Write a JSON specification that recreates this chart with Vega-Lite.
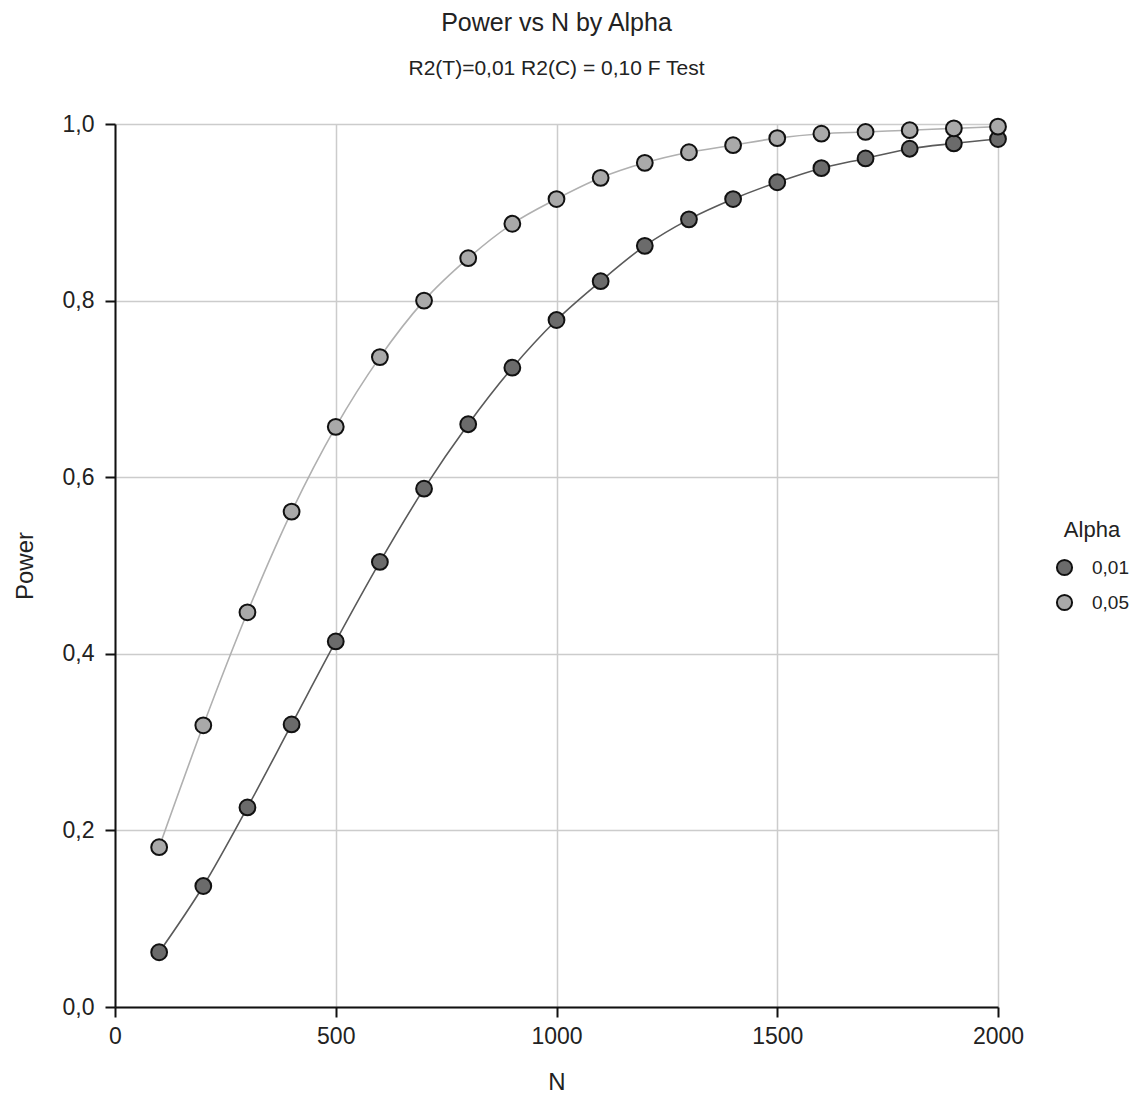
{
  "$schema": "https://vega.github.io/schema/vega-lite/v6.json",
  "autosize": {"type": "none"},
  "padding": {"left": 115, "top": 124, "right": 139, "bottom": 88},
  "width": 883,
  "height": 883,
  "background": "white",
  "title": {
    "text": "Power vs N by Alpha",
    "subtitle": "R2(T)=0,01 R2(C) = 0,10 F Test",
    "anchor": "middle",
    "font": "Liberation Sans",
    "fontSize": 25,
    "fontWeight": "normal",
    "color": "#222222",
    "subtitleFont": "Liberation Sans",
    "subtitleFontSize": 21,
    "subtitleColor": "#222222",
    "subtitlePadding": 22,
    "offset": 34
  },
  "data": {
    "values": [
      {"N": 100, "Power": 0.062, "Alpha": "0,01"},
      {"N": 200, "Power": 0.137, "Alpha": "0,01"},
      {"N": 300, "Power": 0.226, "Alpha": "0,01"},
      {"N": 400, "Power": 0.320, "Alpha": "0,01"},
      {"N": 500, "Power": 0.414, "Alpha": "0,01"},
      {"N": 600, "Power": 0.504, "Alpha": "0,01"},
      {"N": 700, "Power": 0.587, "Alpha": "0,01"},
      {"N": 800, "Power": 0.660, "Alpha": "0,01"},
      {"N": 900, "Power": 0.724, "Alpha": "0,01"},
      {"N": 1000, "Power": 0.778, "Alpha": "0,01"},
      {"N": 1100, "Power": 0.822, "Alpha": "0,01"},
      {"N": 1200, "Power": 0.862, "Alpha": "0,01"},
      {"N": 1300, "Power": 0.892, "Alpha": "0,01"},
      {"N": 1400, "Power": 0.915, "Alpha": "0,01"},
      {"N": 1500, "Power": 0.934, "Alpha": "0,01"},
      {"N": 1600, "Power": 0.950, "Alpha": "0,01"},
      {"N": 1700, "Power": 0.961, "Alpha": "0,01"},
      {"N": 1800, "Power": 0.972, "Alpha": "0,01"},
      {"N": 1900, "Power": 0.978, "Alpha": "0,01"},
      {"N": 2000, "Power": 0.983, "Alpha": "0,01"},
      {"N": 100, "Power": 0.181, "Alpha": "0,05"},
      {"N": 200, "Power": 0.319, "Alpha": "0,05"},
      {"N": 300, "Power": 0.447, "Alpha": "0,05"},
      {"N": 400, "Power": 0.561, "Alpha": "0,05"},
      {"N": 500, "Power": 0.657, "Alpha": "0,05"},
      {"N": 600, "Power": 0.736, "Alpha": "0,05"},
      {"N": 700, "Power": 0.800, "Alpha": "0,05"},
      {"N": 800, "Power": 0.848, "Alpha": "0,05"},
      {"N": 900, "Power": 0.887, "Alpha": "0,05"},
      {"N": 1000, "Power": 0.915, "Alpha": "0,05"},
      {"N": 1100, "Power": 0.939, "Alpha": "0,05"},
      {"N": 1200, "Power": 0.956, "Alpha": "0,05"},
      {"N": 1300, "Power": 0.968, "Alpha": "0,05"},
      {"N": 1400, "Power": 0.976, "Alpha": "0,05"},
      {"N": 1500, "Power": 0.984, "Alpha": "0,05"},
      {"N": 1600, "Power": 0.989, "Alpha": "0,05"},
      {"N": 1700, "Power": 0.991, "Alpha": "0,05"},
      {"N": 1800, "Power": 0.993, "Alpha": "0,05"},
      {"N": 1900, "Power": 0.995, "Alpha": "0,05"},
      {"N": 2000, "Power": 0.997, "Alpha": "0,05"}
    ]
  },
  "encoding": {
    "x": {
      "field": "N", "type": "quantitative",
      "scale": {"domain": [0, 2000], "nice": false, "zero": false},
      "axis": {"values": [0, 500, 1000, 1500, 2000], "format": "d", "labelFlush": false, "title": "N", "titlePadding": 22}
    },
    "y": {
      "field": "Power", "type": "quantitative",
      "scale": {"domain": [0, 1], "nice": false},
      "axis": {
        "values": [0, 0.2, 0.4, 0.6, 0.8, 1.0],
        "labelExpr": "replace(format(datum.value, '.1f'), '.', ',')",
        "labelFlush": false,
        "labelPadding": 11,
        "title": "Power", "titlePadding": 25
      }
    }
  },
  "layer": [
    {
      "mark": {"type": "line", "interpolate": "monotone", "strokeWidth": 1.6},
      "encoding": {
        "detail": {"field": "Alpha", "type": "nominal"},
        "stroke": {
          "condition": {"test": "datum.Alpha === '0,01'", "value": "#5a5a5a"},
          "value": "#b0b0b0"
        }
      }
    },
    {
      "mark": {"type": "point", "filled": true, "shape": "circle", "size": 250, "stroke": "#111111", "strokeWidth": 2, "opacity": 1},
      "encoding": {
        "fill": {
          "field": "Alpha", "type": "nominal",
          "scale": {"domain": ["0,01", "0,05"], "range": ["#6b6b6b", "#a9a9a9"]},
          "legend": {
            "title": "Alpha",
            "orient": "none",
            "legendX": 940,
            "legendY": 396,
            "symbolType": "circle",
            "symbolSize": 230,
            "symbolStrokeColor": "#111111",
            "symbolStrokeWidth": 2,
            "rowPadding": 10,
            "labelOffset": 18,
            "titleAnchor": "middle"
          }
        }
      }
    }
  ],
  "config": {
    "view": {"stroke": null},
    "axis": {
      "labelFont": "Liberation Sans",
      "labelFontSize": 23,
      "labelColor": "#222222",
      "titleFont": "Liberation Sans",
      "titleFontSize": 24,
      "titleFontWeight": "normal",
      "titleColor": "#222222",
      "domainColor": "#111111",
      "domainWidth": 2,
      "tickColor": "#111111",
      "tickWidth": 2,
      "tickSize": 10,
      "labelPadding": 8,
      "gridColor": "#cccccc",
      "gridWidth": 1.5,
      "grid": true
    },
    "legend": {
      "titleFont": "Liberation Sans",
      "titleFontSize": 22,
      "titleFontWeight": "normal",
      "titleColor": "#222222",
      "labelFont": "Liberation Sans",
      "labelFontSize": 19,
      "labelColor": "#222222",
      "titlePadding": 16
    }
  }
}
